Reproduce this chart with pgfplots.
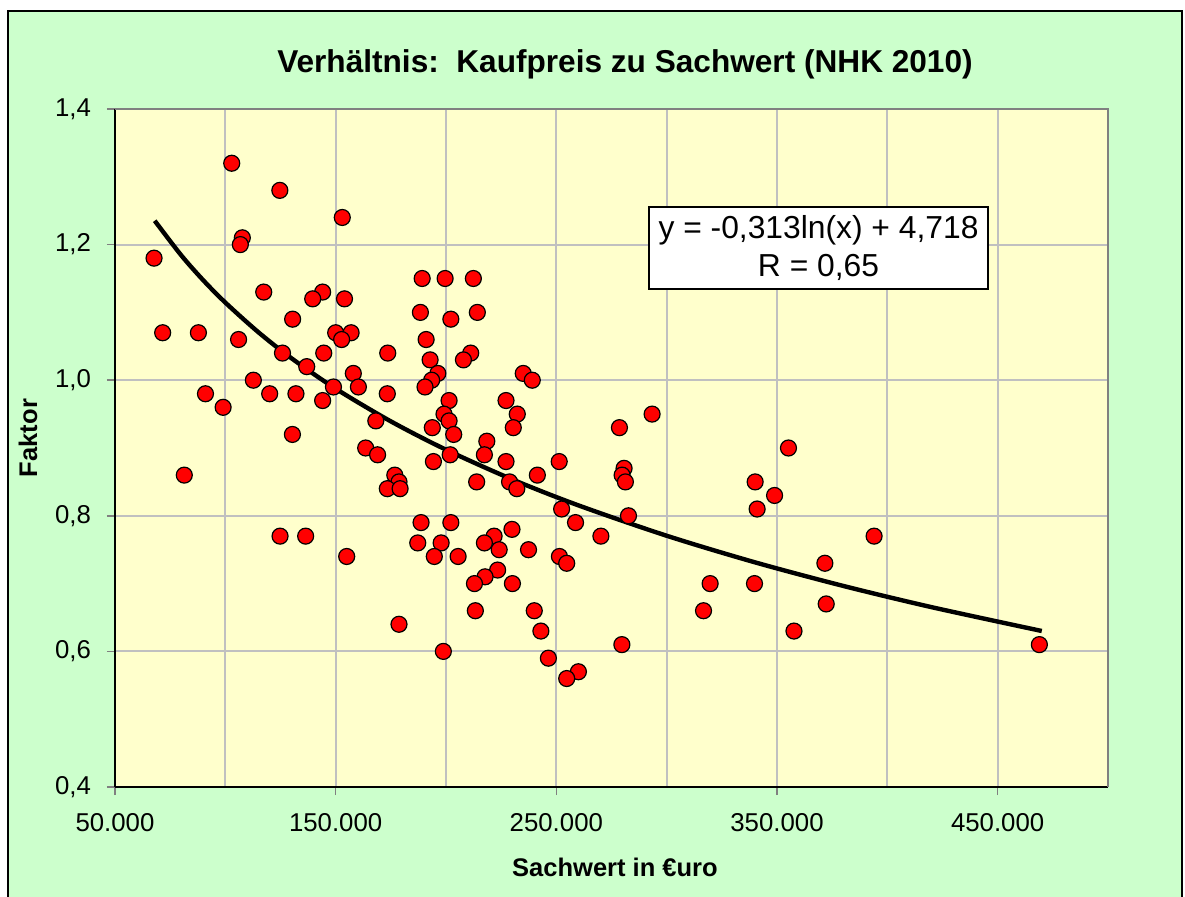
\documentclass[border=0pt]{standalone}
\usepackage{fontspec}
\setmainfont{Liberation Sans}
\usepackage{pgfplots}
\usepackage{pgfplotstable}
\pgfplotsset{compat=1.18}
\definecolor{bggreen}{HTML}{CCFFCC}
\definecolor{bgyellow}{HTML}{FFFFCC}
\definecolor{gridgray}{HTML}{C0C0C0}
\definecolor{boxgray}{HTML}{808080}
\pgfplotstableread{
x y
102900 1.32
124700 1.28
153000 1.24
107700 1.21
106800 1.20
67700 1.18
189200 1.15
199600 1.15
212400 1.15
117400 1.13
144100 1.13
139600 1.12
154000 1.12
188400 1.10
214200 1.10
130500 1.09
202200 1.09
71600 1.07
87800 1.07
150000 1.07
157000 1.07
152700 1.06
106000 1.06
191000 1.06
125900 1.04
144600 1.04
173600 1.04
211200 1.04
192800 1.03
207900 1.03
136900 1.02
158000 1.01
196300 1.01
235000 1.01
112700 1.00
193500 1.00
239100 1.00
190500 0.99
149000 0.99
160300 0.99
91000 0.98
120100 0.98
132000 0.98
173400 0.98
144100 0.97
201400 0.97
227200 0.97
99000 0.96
199100 0.95
232300 0.95
293400 0.95
168200 0.94
201400 0.94
193800 0.93
230500 0.93
278600 0.93
130400 0.92
203500 0.92
218500 0.91
163600 0.90
355200 0.90
169000 0.89
217400 0.89
201900 0.89
194300 0.88
227200 0.88
251300 0.88
280700 0.87
279800 0.86
281300 0.85
81400 0.86
176800 0.86
241400 0.86
178700 0.85
213900 0.85
228800 0.85
340100 0.85
173400 0.84
179200 0.84
232100 0.84
348900 0.83
252400 0.81
341000 0.81
282700 0.80
188700 0.79
202200 0.79
258700 0.79
229900 0.78
124800 0.77
136400 0.77
221800 0.77
270200 0.77
394000 0.77
187200 0.76
197800 0.76
217400 0.76
224100 0.75
237400 0.75
155000 0.74
194700 0.74
205500 0.74
251400 0.74
254700 0.73
371700 0.73
223400 0.72
217700 0.71
212900 0.70
230100 0.70
319700 0.70
339800 0.70
213300 0.66
240000 0.66
316700 0.66
372300 0.67
178700 0.64
243000 0.63
357700 0.63
279700 0.61
468900 0.61
198800 0.60
246400 0.59
260000 0.57
254700 0.56
}\datatable
\begin{document}
\begin{tikzpicture}
\path[use as bounding box] (-57.5pt,-54.5pt) rectangle (535pt,393.5pt);
\fill[white] (-57.5pt,-54.5pt) rectangle (535pt,393.5pt);
\filldraw[fill=bggreen, draw=black, line width=1.3pt] (-53.5pt,-60pt) rectangle (533.5pt,388pt);
\begin{axis}[
 at={(0pt,0pt)}, anchor=south west,
 scale only axis, width=496.5pt, height=339pt,
 xmin=50000, xmax=500000, ymin=0.4, ymax=1.4,
 clip=false,
 axis x line*=bottom, axis y line*=left,
 axis line style={black, line width=0.9pt, -},
 axis background/.style={fill=bgyellow},
 xtick={50000,150000,250000,350000,450000},
 minor xtick={100000,200000,300000,400000,500000},
 ytick={0.4,0.6,0.8,1.0,1.2,1.4},
 grid=both,
 major grid style={gridgray, line width=1pt},
 minor grid style={gridgray, line width=1pt},
 tick align=outside, major tick length=4pt, minor tick length=0pt,
 tick style={boxgray, line width=0.8pt},
 scaled ticks=false,
 /pgf/number format/assume math mode=true,
 xticklabel style={yshift=-5.5pt, /pgf/number format/fixed, /pgf/number format/precision=0, /pgf/number format/1000 sep={.}},
 yticklabel style={xshift=-4.5pt, /pgf/number format/fixed, /pgf/number format/fixed zerofill, /pgf/number format/precision=1, /pgf/number format/use comma},
 ticklabel style={font=\fontsize{12.9}{15}\selectfont, text=black},
]
\addplot[only marks, mark=*, mark size=4pt, mark options={fill=red, draw=black, line width=0.6pt}] table[x=x, y=y] {\datatable};
\addplot[black, line width=2.2pt, smooth] coordinates {
(68000,1.2352) (80000,1.1843) (90000,1.1474) (100000,1.1145) (115000,1.0707)
(130000,1.0323) (150000,0.9875) (175000,0.9393) (200000,0.8975) (230000,0.8537)
(260000,0.8154) (300000,0.7706) (340000,0.7314) (380000,0.6966) (420000,0.6653) (470000,0.6301)};
\draw[boxgray, line width=1pt] (rel axis cs:0,1) -- (rel axis cs:1,1) -- (rel axis cs:1,0);
\node[draw=black, fill=white, line width=0.6pt, align=center, minimum width=169.5pt, minimum height=41pt, inner sep=0pt, font=\fontsize{15.9}{19}\selectfont] at (axis description cs:0.7085,0.795) {y = -0,313ln(x) + 4,718\\R = 0,65};
\node[font=\bfseries\fontsize{12.75}{15}\selectfont, rotate=90, anchor=center] at (axis description cs:-0.0876,0.5147) {Faktor};
\node[font=\bfseries\fontsize{12.75}{15}\selectfont, anchor=base] at (axis description cs:0.5035,-0.1313) {Sachwert in €uro};
\node[font=\bfseries\fontsize{15.8}{19}\selectfont, anchor=base] at (axis description cs:0.5136,1.0531) {Verhältnis:\ \ Kaufpreis zu Sachwert (NHK 2010)};
\end{axis}
\end{tikzpicture}
\end{document}
